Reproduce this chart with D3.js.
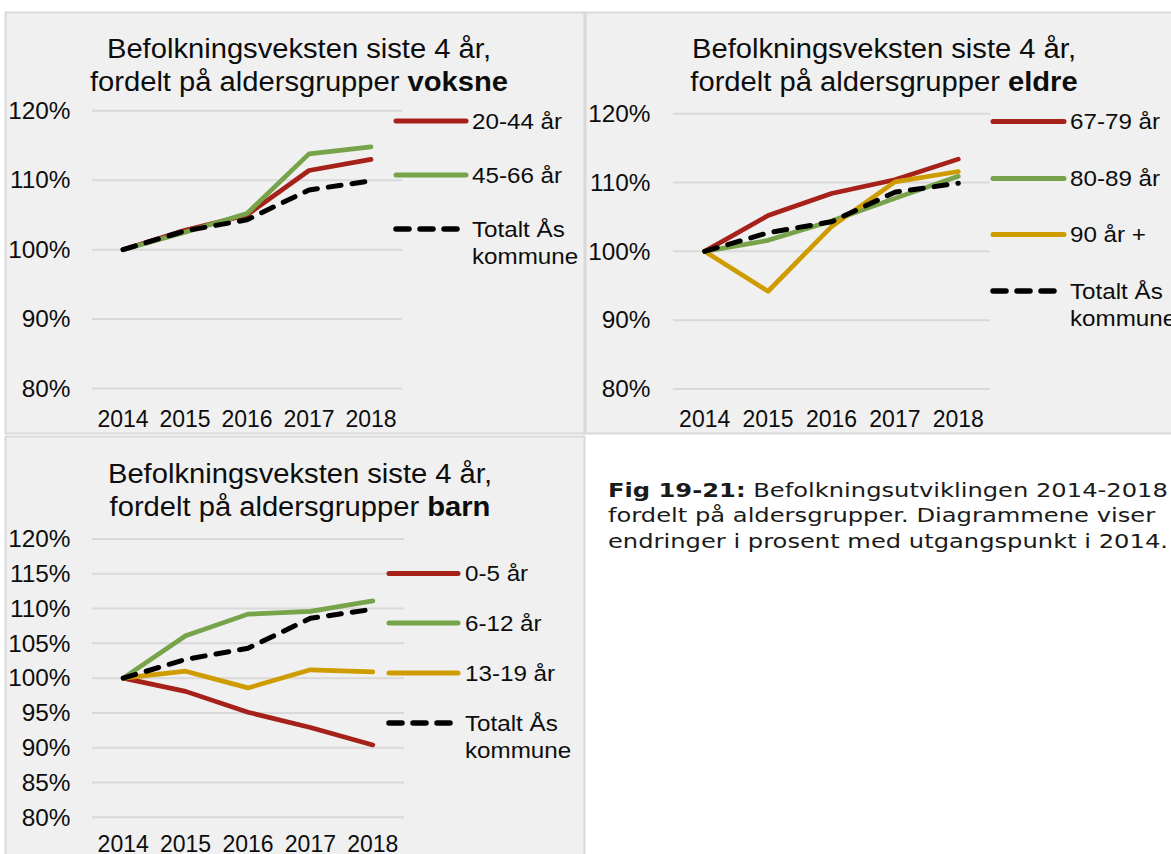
<!DOCTYPE html>
<html lang="no">
<head>
<meta charset="UTF-8">
<title>Befolkningsveksten siste 4 år</title>
<script src="https://d3js.org/d3.v7.min.js"></script>
<style>
    body { margin: 0; background: #fff; }
    svg text { font-family: "Liberation Sans", Arial, sans-serif; fill: #0d0d0d; }
    .caption text { font-family: "DejaVu Sans", Verdana, sans-serif; fill: #1a1a1a; }
</style>
</head>
<body>
<svg id="chart" width="1171" height="854"></svg>
<script>
// data (index, 2014 = 100 %)
const years = ["2014", "2015", "2016", "2017", "2018"];
const totalt = [100, 102.7, 104.3, 108.6, 109.9];
const voksne2044 = [100, 102.8, 105.0, 111.4, 113.0];
const voksne4566 = [100, 102.5, 105.2, 113.8, 114.8];
const eldre6779 = [100, 105.2, 108.4, 110.4, 113.4];
const eldre8089 = [100, 101.6, 104.4, 107.7, 110.9];
const eldre90 = [100, 94.2, 103.6, 110.1, 111.6];
const barn05 = [100, 98.1, 95.1, 92.9, 90.4];
const barn612 = [100, 106.1, 109.2, 109.6, 111.1];
const barn1319 = [100, 101.0, 98.6, 101.2, 100.9];
const ticksVoksne = [80, 90, 100, 110, 120];
const ticksBarn = [80, 85, 90, 95, 100, 105, 110, 115, 120];

const RED = "#a52119", GREEN = "#77a34a", GOLD = "#cf9c00", BLACK = "#000";

const svg = d3.select("#chart");

// the source picture is a bit wider than the fonts, so text gets stretched sideways
function stretch(sel, ax, s) {
    sel.attr("transform", `translate(${ax},0) scale(${s},1) translate(${-ax},0)`);
}

// panel backgrounds
const boxes = [
    { x: 5, y: 12, w: 579, h: 421 },
    { x: 585, y: 12, w: 600, h: 421 },
    { x: 5, y: 436, w: 579, h: 430 }
];
svg.selectAll("rect.box").data(boxes).enter().append("rect")
    .attr("class", "box")
    .attr("x", d => d.x + 0.5).attr("y", d => d.y + 0.5)
    .attr("width", d => d.w).attr("height", d => d.h)
    .attr("fill", "#f0f0f0").attr("stroke", "#d9d9d9").attr("stroke-width", 2);

const panels = [
    {
        word: "voksne", cx: 299, titleY: 58,
        xr: [92, 402], yr: [388.5, 110.8], ticks: ticksVoksne, labelX: 70.5, yearY: 427,
        legX: 396, legW: 70, textX: 472,
        series: [
            { name: "20-44 år", values: voksne2044, color: RED, ly: 121 },
            { name: "45-66 år", values: voksne4566, color: GREEN, ly: 175 },
            { name: ["Totalt Ås", "kommune"], values: totalt, color: BLACK, dash: true, ly: 229 }
        ]
    },
    {
        word: "eldre", cx: 884, titleY: 58,
        xr: [673, 990], yr: [389, 113.7], ticks: ticksVoksne, labelX: 650.5, yearY: 427,
        legX: 993, legW: 71, textX: 1070,
        series: [
            { name: "67-79 år", values: eldre6779, color: RED, ly: 121.5 },
            { name: "80-89 år", values: eldre8089, color: GREEN, ly: 178.5 },
            { name: "90 år +", values: eldre90, color: GOLD, ly: 234.5 },
            { name: ["Totalt Ås", "kommune"], values: totalt, color: BLACK, dash: true, ly: 291 }
        ]
    },
    {
        word: "barn", cx: 300, titleY: 483,
        xr: [92, 404], yr: [817.3, 539], ticks: ticksBarn, labelX: 70.5, yearY: 852,
        legX: 389, legW: 69, textX: 465,
        series: [
            { name: "0-5 år", values: barn05, color: RED, ly: 573.5 },
            { name: "6-12 år", values: barn612, color: GREEN, ly: 623 },
            { name: "13-19 år", values: barn1319, color: GOLD, ly: 673 },
            { name: ["Totalt Ås", "kommune"], values: totalt, color: BLACK, dash: true, ly: 723 }
        ]
    }
];

panels.forEach(p => {
    const g = svg.append("g");
    const x = d3.scaleBand().domain(years).range(p.xr);
    const y = d3.scaleLinear().domain([80, 120]).range(p.yr);

    // title
    const title = g.append("text").attr("text-anchor", "middle").style("font-size", "27px");
    title.append("tspan").attr("x", p.cx).attr("y", p.titleY).text("Befolkningsveksten siste 4 år,");
    const l2 = title.append("tspan").attr("x", p.cx).attr("y", p.titleY + 33.5);
    l2.append("tspan").text("fordelt på aldersgrupper ");
    l2.append("tspan").style("font-weight", "bold").text(p.word);
    stretch(title, p.cx, 1.08);

    // gridlines
    g.selectAll("line.grid").data(p.ticks).enter().append("line")
        .attr("x1", p.xr[0]).attr("x2", p.xr[1])
        .attr("y1", d => y(d)).attr("y2", d => y(d))
        .attr("stroke", "#d9d9d9").attr("stroke-width", 2);

    // y labels
    const ylab = g.append("g");
    ylab.selectAll("text").data(p.ticks).enter().append("text")
        .attr("x", p.labelX).attr("y", d => y(d)).attr("dy", "0.36em")
        .attr("text-anchor", "end").style("font-size", "23px")
        .text(d => d + "%");
    stretch(ylab, p.labelX, 1.06);

    // x labels
    g.selectAll("text.xlab").data(years).enter().append("text")
        .attr("x", d => x(d) + x.bandwidth() / 2).attr("y", p.yearY)
        .attr("text-anchor", "middle").style("font-size", "23px")
        .text(d => d);

    const line = d3.line()
        .x((d, i) => x(years[i]) + x.bandwidth() / 2)
        .y(d => y(d));

    p.series.forEach(s => {
        g.append("path")
            .attr("d", line(s.values))
            .attr("fill", "none")
            .attr("stroke", s.color)
            .attr("stroke-width", s.dash ? 5 : 4.7)
            .attr("stroke-linejoin", "round")
            .attr("stroke-linecap", "round")
            .attr("stroke-dasharray", s.dash ? "13 11" : null);

        // legend
        g.append("line")
            .attr("x1", p.legX).attr("x2", p.legX + (s.dash ? p.legW - 6 : p.legW))
            .attr("y1", s.ly).attr("y2", s.ly)
            .attr("stroke", s.color)
            .attr("stroke-width", s.dash ? 5.5 : 5)
            .attr("stroke-linecap", "round")
            .attr("stroke-dasharray", s.dash ? "13 11" : null);

        const names = Array.isArray(s.name) ? s.name : [s.name];
        const t = g.append("text").style("font-size", "22px");
        names.forEach((n, i) => {
            t.append("tspan").attr("x", p.textX).attr("y", s.ly + i * 27.5).attr("dy", "0.36em").text(n);
        });
        stretch(t, p.textX, 1.1);
    });
});

// caption
const cap = svg.append("g").attr("class", "caption");
const capLines = [
    [["Fig 19-21:", true], [" Befolkningsutviklingen 2014-2018", false]],
    [["fordelt på aldersgrupper. Diagrammene viser", false]],
    [["endringer i prosent med utgangspunkt i 2014.", false]]
];
capLines.forEach((parts, i) => {
    const t = cap.append("text").attr("x", 608).attr("y", 497 + i * 25.5).style("font-size", "20px");
    parts.forEach(([txt, bold]) => {
        t.append("tspan").style("font-weight", bold ? "bold" : "normal").text(txt);
    });
    stretch(t, 608, 1.21);
});
</script>
</body>
</html>
